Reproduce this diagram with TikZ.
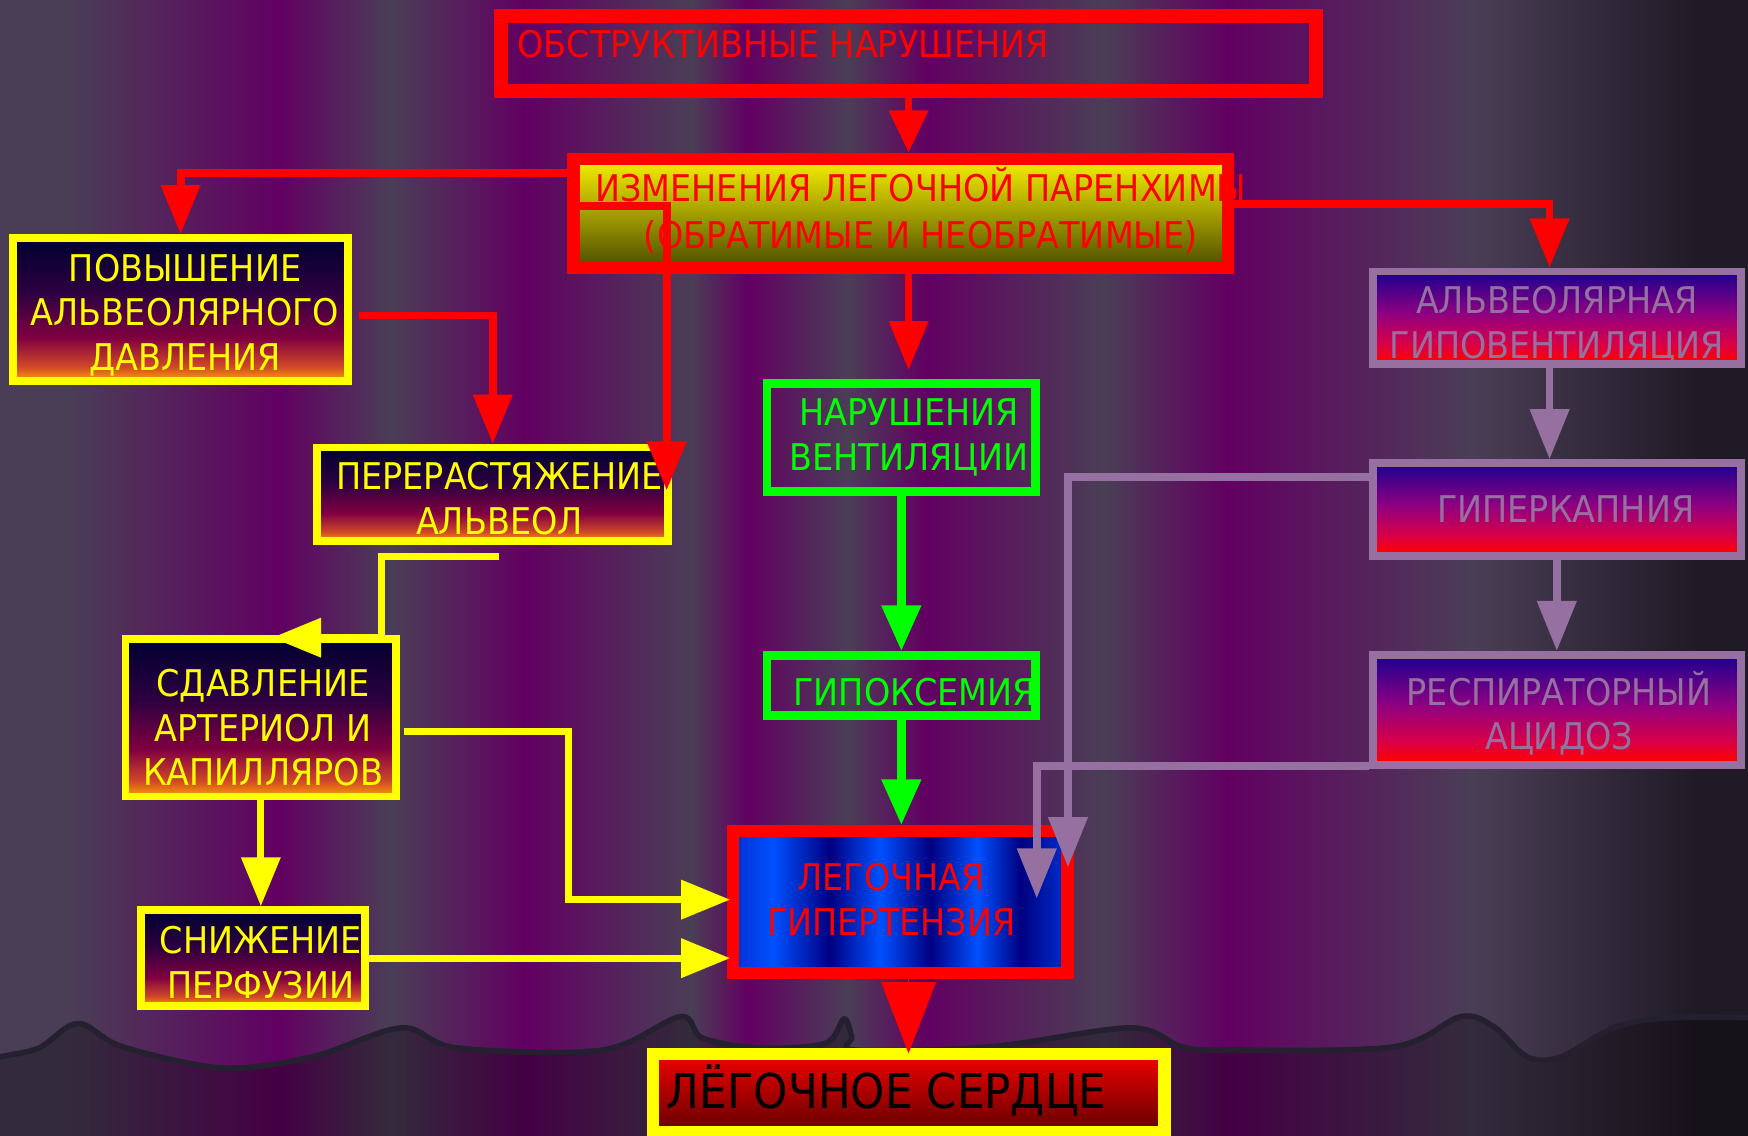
\documentclass[tikz,border=0pt]{standalone}
\usepackage{fontspec}
\setmainfont{DejaVu Sans}[FakeStretch=0.91]
\usetikzlibrary{arrows.meta}

\definecolor{bgpurple}{HTML}{620062}
\definecolor{bggrey}{HTML}{4A3E56}
\definecolor{bgdark}{HTML}{201A26}
\definecolor{ground}{HTML}{252030}
\definecolor{boxyellow}{HTML}{FFFF00}
\definecolor{boxgreen}{HTML}{00FF00}
\definecolor{boxred}{HTML}{FF0000}
\definecolor{lilac}{HTML}{9670A0}
\definecolor{warmorange}{HTML}{FFA000}
\definecolor{warmrust}{HTML}{D04828}
\definecolor{warmcrimson}{HTML}{800040}
\definecolor{warmplum}{HTML}{2C0040}
\definecolor{warmnavy}{HTML}{000030}
\definecolor{lilorange}{HTML}{FF5000}
\definecolor{lilred}{HTML}{FF0000}
\definecolor{lilrose}{HTML}{D80048}
\definecolor{lilmag}{HTML}{900080}
\definecolor{lilblue}{HTML}{1A0090}
\definecolor{bnavy}{HTML}{000080}
\definecolor{bbright}{HTML}{0050FF}
\definecolor{bmid}{HTML}{0030D0}
\definecolor{olivetop}{HTML}{F8F000}
\definecolor{olivebot}{HTML}{4C4C00}
\definecolor{cortop}{HTML}{F00000}
\definecolor{corbot}{HTML}{620000}

\pgfdeclareverticalshading{warmfill}{100bp}{color(0bp)=(warmorange); color(25bp)=(warmorange); color(30bp)=(warmrust); color(40bp)=(warmcrimson); color(56bp)=(warmplum); color(75bp)=(warmnavy); color(100bp)=(warmnavy)}
\pgfdeclareverticalshading{lilacfill}{100bp}{color(0bp)=(lilorange); color(25bp)=(lilorange); color(26.5bp)=(lilred); color(36bp)=(lilrose); color(52bp)=(lilmag); color(75bp)=(lilblue); color(100bp)=(lilblue)}
\pgfdeclarehorizontalshading{bluestripe}{100bp}{color(0bp)=(bmid); color(25bp)=(bmid); color(31bp)=(bbright); color(39.5bp)=(bnavy); color(47bp)=(bbright); color(54.5bp)=(bnavy); color(61.5bp)=(bbright); color(68bp)=(bnavy); color(75bp)=(bmid); color(100bp)=(bmid)}

\tikzset{box/.style={rectangle,draw,inner sep=0pt}}
\tikzset{warmbox/.style={box,draw=boxyellow,line width=7,shade,shading=warmfill}}
\tikzset{lilacbox/.style={box,draw=lilac,line width=7,shade,shading=lilacfill}}
\tikzset{greenbox/.style={box,draw=boxgreen,line width=8}}
\tikzset{btext/.style={inner sep=0pt,align=center,font=\fontsize{33}{40}\selectfont}}
\tikzset{redlink/.style={draw=boxred,line width=7,-{Triangle[width=34,length=44]}}}
\tikzset{yellink/.style={draw=boxyellow,line width=6.5,-{Triangle[width=34,length=44]}}}
\tikzset{greenlink/.style={draw=boxgreen,line width=7.5,-{Triangle[width=34,length=41]}}}
\tikzset{lilaclink/.style={draw=lilac,line width=7,-{Triangle[width=34,length=45]}}}

\begin{document}
\begin{tikzpicture}[x=1pt,y=-1pt]
    \useasboundingbox (0,0) rectangle (1568,1019);

    % curtain
    \foreach \xa/\xb/\ca/\cb in {0/60/bggrey/bggrey,60/250/bggrey/bgpurple,250/350/bgpurple/bggrey,350/470/bggrey/bgpurple,470/620/bgpurple/bggrey,620/670/bggrey/bgpurple,670/760/bgpurple/bggrey,760/830/bggrey/bgpurple,830/990/bgpurple/bggrey,990/1100/bggrey/bgpurple,1100/1320/bgpurple/bggrey,1320/1520/bggrey/bgdark,1520/1568/bgdark/bgdark}
        \shade[left color=\ca,right color=\cb] (\xa,0) rectangle ({\xb+1},1019);
    \draw[ground,line width=5,fill=black,fill opacity=0.3] plot[smooth,tension=0.55] coordinates {(-7,950) (0,948) (35,940) (70,918) (110,939) (200,958) (280,948) (360,922) (410,940) (540,942) (610,912) (630,931) (680,940) (740,936) (757,914) (764,930) (768,942) (888,939) (1014,922) (1060,939) (1100,942) (1250,939) (1310,912) (1340,921) (1370,948) (1400,948) (1450,921) (1500,913) (1575,913)} -- (1575,1030) -- (-7,1030) -- cycle;

    % boxes
    \node[box,draw=boxred,line width=13,minimum width=731,minimum height=67] (obstr) at (815,48) {};
    \node[box,draw=boxred,line width=11,minimum width=587,minimum height=98,top color=olivetop,bottom color=olivebot] (parench) at (808,191.5) {};
    \node[warmbox,minimum width=301,minimum height=128] (pressure) at (162,277.5) {};
    \node[warmbox,minimum width=315,minimum height=84] (stretch) at (442,443.5) {};
    \node[warmbox,minimum width=243,minimum height=141] (compress) at (234,644) {};
    \node[warmbox,minimum width=201,minimum height=86] (perfus) at (227,859.5) {};
    \node[greenbox,minimum width=241,minimum height=97] (vent) at (808.5,392.5) {};
    \node[greenbox,minimum width=241,minimum height=54] (hypox) at (808.5,615) {};
    \node[box,draw=boxred,line width=11,minimum width=300,minimum height=127,shade,shading=bluestripe] (hypert) at (807.5,809) {};
    \node[box,draw=boxyellow,line width=11,minimum width=459,minimum height=70,top color=cortop,bottom color=corbot] (cor) at (815,980.5) {};
    \node[lilacbox,minimum width=330,minimum height=83] (hypovent) at (1396.5,285) {};
    \node[lilacbox,minimum width=330,minimum height=83] (hypercap) at (1396.5,457) {};
    \node[lilacbox,minimum width=330,minimum height=99] (acid) at (1396.5,637) {};

    % texts
    \node[btext,text=boxred,anchor=west] (obstr-t) at (464,40) {ОБСТРУКТИВНЫЕ НАРУШЕНИЯ};
    \node[btext,text=boxred,font=\fontsize{33}{42}\selectfont] (parench-t) at (826,189) {ИЗМЕНЕНИЯ ЛЕГОЧНОЙ ПАРЕНХИМЫ\\(ОБРАТИМЫЕ И НЕОБРАТИМЫЕ)};
    \node[btext,text=boxyellow] (pressure-t) at ([shift={(4,5)}]pressure.center) {ПОВЫШЕНИЕ\\АЛЬВЕОЛЯРНОГО\\ДАВЛЕНИЯ};
    \node[btext,text=boxyellow] (stretch-t) at ([shift={(6,4)}]stretch.center) {ПЕРЕРАСТЯЖЕНИЕ\\АЛЬВЕОЛ};
    \node[btext,text=boxyellow] (compress-t) at ([shift={(2,9)}]compress.center) {СДАВЛЕНИЕ\\АРТЕРИОЛ И\\КАПИЛЛЯРОВ};
    \node[btext,text=boxyellow] (perfus-t) at ([shift={(7,4)}]perfus.center) {СНИЖЕНИЕ\\ПЕРФУЗИИ};
    \node[btext,text=boxgreen] (vent-t) at ([shift={(7,0)}]vent.center) {НАРУШЕНИЯ\\ВЕНТИЛЯЦИИ};
    \node[btext,text=boxgreen] (hypox-t) at ([shift={(12,6)}]hypox.center) {ГИПОКСЕМИЯ};
    \node[btext,text=boxred] (hypert-t) at ([shift={(-8,-2)}]hypert.center) {ЛЕГОЧНАЯ\\ГИПЕРТЕНЗИЯ};
    \node[btext,text=black,anchor=west,font=\fontsize{43}{50}\selectfont] (cor-t) at (598,978) {ЛЁГОЧНОЕ СЕРДЦЕ};
    \node[btext,text=lilac] (hypovent-t) at ([shift={(0,7)}]hypovent.center) {АЛЬВЕОЛЯРНАЯ\\ГИПОВЕНТИЛЯЦИЯ};
    \node[btext,text=lilac] (hypercap-t) at ([shift={(8,0)}]hypercap.center) {ГИПЕРКАПНИЯ};
    \node[btext,text=lilac] (acid-t) at ([shift={(2,3)}]acid.center) {РЕСПИРАТОРНЫЙ\\АЦИДОЗ};

    % connectors
    \path[redlink,-{Triangle[width=34,length=38]}] (obstr.south) -- ([xshift=7]parench.north);
    \path[redlink] ([xshift=7]parench.south) -- ([xshift=6.5,yshift=8]vent.north);
    \path[redlink] ([yshift=36.5]parench.west) -| (pressure.north);
    \path[redlink] ([yshift=6.5]parench.west) -| ([xshift=-5,yshift=3.5]stretch.east);
    \path[redlink] ([yshift=8.5]parench.east) -| ([xshift=-6.5]hypovent.north);
    \path[redlink] ([xshift=6,yshift=-5.5]pressure.east) -| (stretch.north);

    \path[yellink] ([xshift=6,yshift=-10]stretch.south) -| ([xshift=108,yshift=-2]compress.north) -- ([xshift=10,yshift=-2]compress.north);
    \path[yellink] ([xshift=3,yshift=-12]compress.east) -| ([xshift=-142,yshift=2]hypert.west) -- ([xshift=3,yshift=2]hypert.west);
    \path[yellink] (perfus.east) -- ([xshift=3]perfus.east -| hypert.west);
    \path[yellink] (compress.south) -- (compress.south |- perfus.north);

    \path[greenlink] (vent.south) -- (hypox.north);
    \path[greenlink] (hypox.south) -- (hypox.south |- hypert.north);

    \path[lilaclink] ([xshift=-6.5]hypovent.south) -- ([xshift=-6.5]hypercap.north);
    \path[lilaclink] (hypercap.south) -- (acid.north);
    \path[lilaclink] ([yshift=29]hypercap.west) -| ([xshift=-5,yshift=31]hypert.east);
    \path[lilaclink] ([yshift=-50]acid.west) -| ([xshift=-33,yshift=3]hypert.east);

    \path[draw=boxred,line width=1,-{Triangle[width=49,length=64]}] (hypert.south -| cor.north) -- ([yshift=-5]cor.north);
\end{tikzpicture}
\end{document}
